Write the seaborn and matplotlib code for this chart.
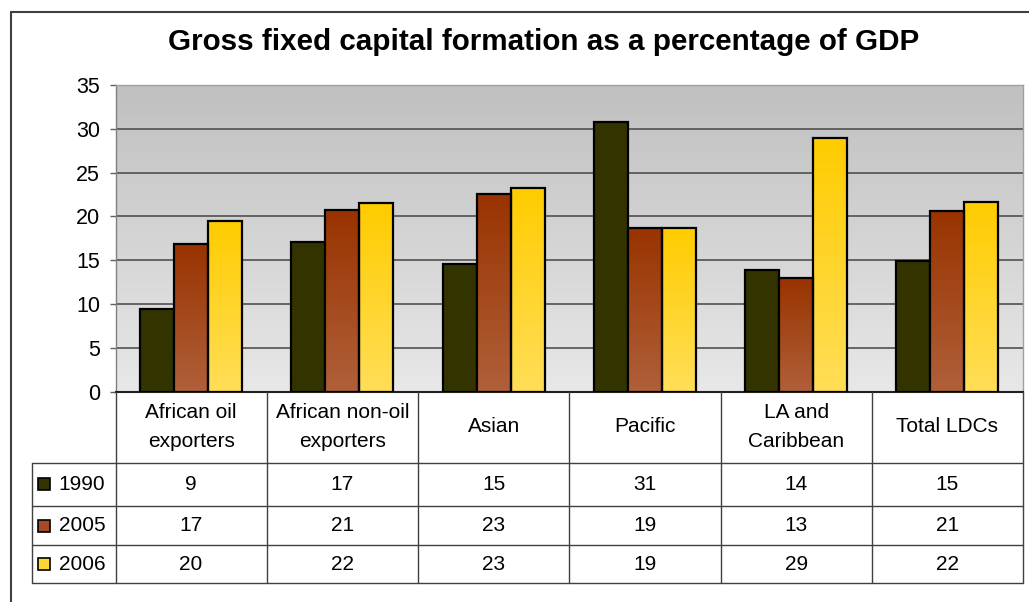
import numpy as np
import pandas as pd
import seaborn as sns
import matplotlib
matplotlib.use("Agg")
import matplotlib.pyplot as plt
from matplotlib.colors import LinearSegmentedColormap, to_hex
from matplotlib.patches import Rectangle
from matplotlib.lines import Line2D
from matplotlib.transforms import blended_transform_factory

# ---------------- data ----------------
categories = ["African oil\nexporters", "African non-oil\nexporters", "Asian",
              "Pacific", "LA and\nCaribbean", "Total LDCs"]
years = ["1990", "2005", "2006"]
v1990 = [9.4, 17.1, 14.6, 30.8, 13.9, 14.9]
v2005 = [16.9, 20.7, 22.6, 18.7, 13.0, 20.6]
v2006 = [19.5, 21.5, 23.3, 18.7, 29.0, 21.6]
t1990 = [9, 17, 15, 31, 14, 15]
t2005 = [17, 21, 23, 19, 13, 21]
t2006 = [20, 22, 23, 19, 29, 22]
yticks = [0, 5, 10, 15, 20, 25, 30, 35]
title = "Gross fixed capital formation as a percentage of GDP"

# ---------------- style ----------------
sns.set_theme(style="white")
plt.rcParams["font.family"] = ["Liberation Sans", "DejaVu Sans"]
plt.rcParams["text.color"] = "black"
plt.rcParams["ytick.color"] = "black"

W, H = 1029, 602
base_cols = ["#333300", "#993300", "#ffcc00"]
grad = {
    "#333300": ("#333300", "#333300"),
    "#993300": ("#993300", "#b0603a"),
    "#ffcc00": ("#ffcc00", "#ffde58"),
}
legend_cols = ["#333300", "#a64a26", "#ffd733"]

df = pd.DataFrame({
    "cat": categories * 3,
    "year": [y for y in years for _ in categories],
    "value": v1990 + v2005 + v2006,
})

fig = plt.figure(figsize=(W / 100, H / 100), dpi=100)
ax_l, ax_r, ax_t, ax_b = 115.5, 1023, 85, 391.7
ax = fig.add_axes([ax_l / W, 1 - ax_b / H, (ax_r - ax_l) / W, (ax_b - ax_t) / H])

sns.barplot(data=df, x="cat", y="value", hue="year", palette=base_cols,
            width=0.675, ax=ax, edgecolor="black", linewidth=1.6,
            legend=False, zorder=3, saturation=1, errorbar=None)

ax.set_xlim(-0.5, len(categories) - 0.5)
ax.set_ylim(0, 35)

# background gradient
bg = LinearSegmentedColormap.from_list("bg", ["#e8e8e8", "#c0c0c0"])
ax.imshow(np.linspace(0, 1, 256).reshape(-1, 1), cmap=bg, origin="lower",
          extent=(-0.5, len(categories) - 0.5, 0, 35), aspect="auto", zorder=0)

# bar gradients
for p in list(ax.patches):
    fc = to_hex(p.get_facecolor())
    if fc not in grad:
        continue
    top, bottom = grad[fc]
    if top == bottom:
        continue
    cm = LinearSegmentedColormap.from_list("g", [bottom, top])
    x0, y0 = p.get_x(), p.get_y()
    w, h = p.get_width(), p.get_height()
    im = ax.imshow(np.linspace(0, 1, 256).reshape(-1, 1), cmap=cm, origin="lower",
                   extent=(x0, x0 + w, y0, y0 + h), aspect="auto", zorder=3.1)
    im.set_clip_path(p)
    p.set_facecolor("none")
    p.set_zorder(3.2)

ax.set_xlim(-0.5, len(categories) - 0.5)
ax.set_ylim(0, 35)

ax.set_axisbelow(True)
ax.yaxis.grid(True, color="#505050", lw=1.2)
ax.xaxis.grid(False)
ax.set_yticks(yticks)
ax.set_yticklabels([str(t) for t in yticks], fontsize=15.5, color="black")
ax.tick_params(axis="y", left=True, length=4, width=1, color="#606060", pad=7)
ax.tick_params(axis="x", bottom=False, labelbottom=False)
ax.set_xlabel("")
ax.set_ylabel("")
for s in ["top", "right"]:
    ax.spines[s].set_color("#a0a0a0")
    ax.spines[s].set_linewidth(1)
ax.spines["left"].set_color("#808080")
ax.spines["left"].set_linewidth(1)
ax.spines["bottom"].set_color("#202020")
ax.spines["bottom"].set_linewidth(1.5)

# ---------------- data table ----------------
tr = blended_transform_factory(ax.transData, fig.transFigure)
def fy(p):
    return 1 - p / H

lc = "#404040"
fs = 15
tab_top, hdr_bot, r1, r2, r3 = 392, 463, 505.7, 545.3, 583.3
leg_l = 31.5
for k in range(len(categories) + 1):
    fig.add_artist(Line2D([k - 0.5, k - 0.5], [fy(tab_top), fy(r3)], transform=tr,
                          color=lc, lw=1))
fig.add_artist(Line2D([leg_l / W, leg_l / W], [fy(hdr_bot), fy(r3)],
                      transform=fig.transFigure, color=lc, lw=1))
for yy in [hdr_bot, r1, r2, r3]:
    fig.add_artist(Line2D([leg_l / W, ax_r / W], [fy(yy), fy(yy)],
                          transform=fig.transFigure, color=lc, lw=1))

for i, c in enumerate(categories):
    fig.text(i, fy(427), c, transform=tr, ha="center", va="center",
             fontsize=fs, linespacing=1.7, color="black")

rows = [(years[0], t1990, legend_cols[0], hdr_bot, r1),
        (years[1], t2005, legend_cols[1], r1, r2),
        (years[2], t2006, legend_cols[2], r2, r3)]
for yr, vals, col, ya, yb in rows:
    yc = (ya + yb) / 2
    fig.add_artist(Rectangle((37.5 / W, fy(yc + 6)), 12 / W, 12 / H,
                             transform=fig.transFigure, facecolor=col,
                             edgecolor="black", lw=1.2))
    fig.text(58.5 / W, fy(yc), yr, ha="left", va="center", fontsize=fs,
             color="black")
    for i, v in enumerate(vals):
        fig.text(i, fy(yc), str(v), transform=tr, ha="center", va="center",
                 fontsize=fs, color="black")

# title
fig.text(544 / W, fy(42), title, ha="center", va="center", fontsize=21.3,
         fontweight="bold", color="black")

# outer frame (left and top visible)
fig.add_artist(Line2D([10.5 / W, 10.5 / W], [fy(12), -0.05],
                      transform=fig.transFigure, color=lc, lw=1.5))
fig.add_artist(Line2D([10.5 / W, 1.05], [fy(12), fy(12)],
                      transform=fig.transFigure, color=lc, lw=1.5))

fig.savefig("out.png", dpi=100)
